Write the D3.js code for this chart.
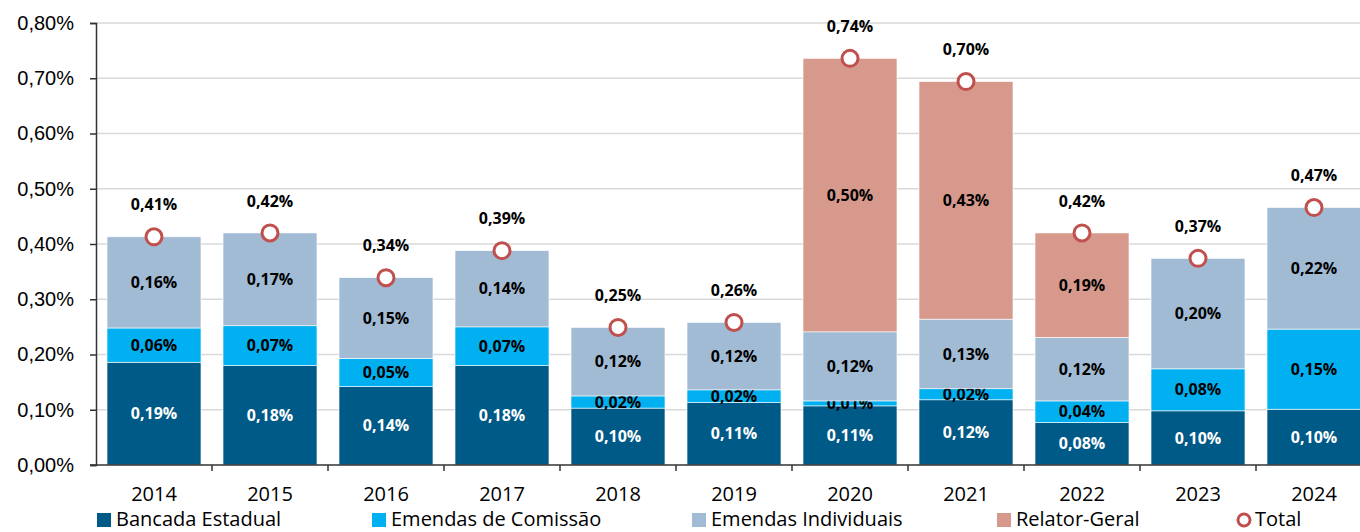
<!DOCTYPE html>
<html>
<head>
<meta charset="utf-8">
<script src="https://cdn.jsdelivr.net/npm/d3@7"></script>
<style>
  body { margin: 0; background: #fff; }
  svg { display: block; font-family: "Open Sans", Lato, sans-serif; }
</style>
</head>
<body>
<svg id="chart" width="1360" height="532"></svg>
<script>
// values, in percent of RCL
var years = ["2014","2015","2016","2017","2018","2019","2020","2021","2022","2023","2024"];
var bancada   = [0.186, 0.180, 0.142, 0.180, 0.103, 0.113, 0.107, 0.118, 0.077, 0.098, 0.101];
var comissao  = [0.062, 0.072, 0.051, 0.070, 0.022, 0.023, 0.009, 0.020, 0.039, 0.076, 0.145];
var individ   = [0.165, 0.168, 0.146, 0.138, 0.124, 0.122, 0.125, 0.126, 0.115, 0.200, 0.220];
var relator   = [0,     0,     0,     0,     0,     0,     0.495, 0.430, 0.189, 0,     0];
var bancadaLbl  = ["0,19%","0,18%","0,14%","0,18%","0,10%","0,11%","0,11%","0,12%","0,08%","0,10%","0,10%"];
var comissaoLbl = ["0,06%","0,07%","0,05%","0,07%","0,02%","0,02%","0,01%","0,02%","0,04%","0,08%","0,15%"];
var individLbl  = ["0,16%","0,17%","0,15%","0,14%","0,12%","0,12%","0,12%","0,13%","0,12%","0,20%","0,22%"];
var relatorLbl  = ["","","","","","","0,50%","0,43%","0,19%","",""];
var totalLbl    = ["0,41%","0,42%","0,34%","0,39%","0,25%","0,26%","0,74%","0,70%","0,42%","0,37%","0,47%"];
var yTicks = [0, 0.1, 0.2, 0.3, 0.4, 0.5, 0.6, 0.7, 0.8];

var seriesNames = ["Bancada Estadual", "Emendas de Comissão", "Emendas Individuais", "Relator-Geral"];
var colors = ["#005a87", "#00b0f0", "#a2bbd4", "#d6998b"];
var labelColors = ["#fff", "#000", "#000", "#000"];

(function(){
var svg = d3.select("#chart");
var left = 96, plotTop = 23, bottom = 465;

// table for the stack
var rows = years.map(function(y, i){
  return {year: y, b: bancada[i], c: comissao[i], ind: individ[i], r: relator[i], i: i};
});
var keys = ["b", "c", "ind", "r"];
var lbls = [bancadaLbl, comissaoLbl, individLbl, relatorLbl];
var stacked = d3.stack().keys(keys)(rows);

var x = d3.scaleBand().domain(years).range([left, left + 116 * 11]).paddingInner(0.19).paddingOuter(0.095);
var y = d3.scaleLinear().domain([0, 0.8]).range([bottom, plotTop]);

// gridlines
svg.append("g").selectAll("line").data(yTicks.slice(1)).enter().append("line")
  .attr("x1", left).attr("x2", 1360)
  .attr("y1", function(d){ return y(d); }).attr("y2", function(d){ return y(d); })
  .attr("stroke", "#d9d9d9").attr("stroke-width", 1.5);

// bars
stacked.forEach(function(s, k){
  var g = svg.append("g");
  g.selectAll("rect").data(s).enter().append("rect")
    .attr("x", function(d){ return x(d.data.year); })
    .attr("width", x.bandwidth())
    .attr("y", function(d){ return y(d[1]); })
    .attr("height", function(d){ return y(d[0]) - y(d[1]); })
    .attr("fill", colors[k])
    .attr("stroke", "#fff").attr("stroke-width", 0.6);
  g.selectAll("text").data(s.filter(function(d){ return lbls[k][d.data.i] != ""; })).enter().append("text")
    .attr("x", function(d){ return x(d.data.year) + x.bandwidth() / 2; })
    .attr("y", function(d){ return (y(d[0]) + y(d[1])) / 2; })
    .attr("dy", "0.35em")
    .attr("text-anchor", "middle")
    .style("font-size", "16px").style("font-weight", "bold")
    .attr("fill", labelColors[k])
    .text(function(d){ return lbls[k][d.data.i]; });
});

// totals
var totals = rows.map(function(d){ return {year: d.year, v: d.b + d.c + d.ind + d.r, i: d.i}; });
svg.append("g").selectAll("circle").data(totals).enter().append("circle")
  .attr("cx", function(d){ return x(d.year) + x.bandwidth() / 2; })
  .attr("cy", function(d){ return y(d.v); })
  .attr("r", 8)
  .attr("fill", "#fff").attr("stroke", "#c0504d").attr("stroke-width", 3);
svg.append("g").selectAll("text").data(totals).enter().append("text")
  .attr("x", function(d){ return x(d.year) + x.bandwidth() / 2; })
  .attr("y", function(d){ return y(d.v) - 32; })
  .attr("dy", "0.35em")
  .attr("text-anchor", "middle")
  .style("font-size", "16px").style("font-weight", "bold")
  .text(function(d){ return totalLbl[d.i]; });

// y axis
var yAxis = d3.axisLeft(y).tickValues(yTicks).tickSize(6).tickPadding(16)
  .tickFormat(function(d){ return d3.format(".2f")(d).replace(".", ",") + "%"; });
var gy = svg.append("g").attr("transform", "translate(" + left + ",0)").call(yAxis);
gy.select(".domain").attr("stroke", "#333").attr("stroke-width", 1.5);
gy.selectAll(".tick line").attr("stroke", "#333").attr("stroke-width", 1.5);
gy.selectAll("text").style("font-size", "20px").attr("fill", "#000").attr("font-family", null);

// x axis, ticks at band boundaries
var gx = svg.append("g").attr("transform", "translate(0," + bottom + ")");
gx.append("line").attr("x1", left - 6).attr("x2", 1360).attr("stroke", "#333").attr("stroke-width", 1.5);
var step = x.step();
gx.selectAll(".bt").data(years).enter().append("line")
  .attr("x1", function(d){ return x(d) - x.paddingOuter() * step + step; })
  .attr("x2", function(d){ return x(d) - x.paddingOuter() * step + step; })
  .attr("y1", 0).attr("y2", 6)
  .attr("stroke", "#333").attr("stroke-width", 1.5);
gx.selectAll("text").data(years).enter().append("text")
  .attr("x", function(d){ return x(d) + x.bandwidth() / 2; })
  .attr("y", 29)
  .attr("dy", "0.35em")
  .attr("text-anchor", "middle")
  .style("font-size", "20px")
  .text(function(d){ return d; });

// legend
var legendX = [97, 372, 692, 997, 1238];
var lg = svg.append("g").attr("transform", "translate(0,519)");
seriesNames.forEach(function(n, k){
  lg.append("rect").attr("x", legendX[k]).attr("y", -6).attr("width", 14).attr("height", 14).attr("fill", colors[k]);
  lg.append("text").attr("x", legendX[k] + 19).attr("y", 0).attr("dy", "0.35em")
    .style("font-size", "20px").text(n);
});
lg.append("circle").attr("cx", legendX[4] + 6).attr("cy", 1).attr("r", 6)
  .attr("fill", "#fff").attr("stroke", "#c0504d").attr("stroke-width", 3);
lg.append("text").attr("x", legendX[4] + 17).attr("y", 0).attr("dy", "0.35em")
  .style("font-size", "20px").text("Total");
})();
</script>
</body>
</html>
